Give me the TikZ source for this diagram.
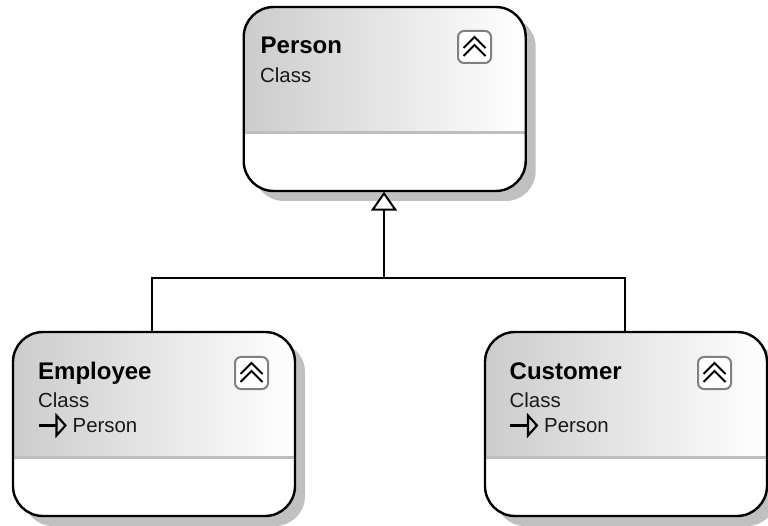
\documentclass[tikz,border=0pt]{standalone}
\usepackage{fontspec}
\setmainfont{Liberation Sans}
\usetikzlibrary{arrows.meta,shadows,positioning,calc}
\definecolor{hdrgray}{RGB}{204,204,204}
\definecolor{shadowgray}{RGB}{192,192,192}
\definecolor{divgray}{RGB}{190,190,190}
\definecolor{btngray}{RGB}{128,128,128}
\tikzset{
  classbox/.style={draw=black,line width=2.4pt,fill=white,rounded corners=30pt,
    minimum width=282pt,minimum height=184pt,inner sep=0pt,
    general shadow={shadow xshift=10pt,shadow yshift=-10pt,fill=shadowgray},
    path picture={
      \shade[sharp corners,left color=hdrgray,right color=white]
        (path picture bounding box.north west) rectangle
        ($(path picture bounding box.north east)+(0,-#1)$);
      \fill[sharp corners,divgray] ($(path picture bounding box.north west)+(0,-#1+1pt)$) rectangle
        ($(path picture bounding box.north east)+(0,-#1-2pt)$);
    }},
  classbox/.default=125pt,
  titletext/.style={font=\fontsize{24}{26}\selectfont\bfseries,anchor=base west,inner sep=0pt},
  subtext/.style={font=\fontsize{20.4}{22}\selectfont,anchor=base west,inner sep=0pt,text=black!90},
  btn/.style={draw=btngray,line width=2pt,fill=white,rounded corners=6pt,minimum width=33pt,minimum height=32pt,inner sep=0pt},
  chev/.style={line width=2.1pt,black},
  inherit/.style={line width=2pt,black},
  bigtip/.style={-{Triangle[open,length=19pt,width=26pt,fill=white,line width=2pt]}},
  smalltip/.style={line width=2.1pt}
}
\newcommand{\chevrons}[1]{%
  \draw[chev] ($(#1)+(-11pt,-1pt)$) -- ($(#1)+(0,10pt)$) -- ($(#1)+(11pt,-1pt)$);
  \draw[chev] ($(#1)+(-11pt,-9pt)$) -- ($(#1)+(0,2pt)$) -- ($(#1)+(11pt,-9pt)$);
}
\newcommand{\subarrow}[1]{%
  \draw[smalltip] ($(#1)+(0,0)$) -- ($(#1)+(18pt,0)$);
  \draw[smalltip,line join=miter] ($(#1)+(18pt,10pt)$) -- ($(#1)+(27pt,0)$) -- ($(#1)+(18pt,-10pt)$) -- cycle;
}
\begin{document}
\begin{tikzpicture}[x=1pt,y=-1pt]
\useasboundingbox (0,0) rectangle (768,526);
% boxes
\node[classbox=125pt] (person) at (384.7,99) {};
\node[classbox=125pt] (employee) at (154,424) {};
\node[classbox=125pt] (customer) at (626,424) {};
% connectors
\coordinate (junction) at (384,278);
\draw[inherit] ([xshift=-1.8pt]employee.north) |- (junction);
\draw[inherit] ([xshift=-1pt]customer.north) |- (junction);
\draw[inherit,bigtip] (junction) -- ([xshift=-0.7pt,yshift=0.5pt]person.south);
% Person
\node[titletext] (ptitle) at (260.5,54) {Person};
\node[subtext] (pclass) at (260,83) {Class};
\node[btn] (pbtn) at (474.5,47) {};
\coordinate (pc) at (474.5,47);
\chevrons{pc}
% Employee
\node[titletext] (etitle) at (38,379) {Employee};
\node[subtext] (eclass) at (38,407) {Class};
\coordinate (ea) at (38.5,425.5);
\subarrow{ea}
\node[subtext] (eperson) at (72.5,432) {Person};
\node[btn] (ebtn) at (251.5,373) {};
\coordinate (ec) at (251.5,373);
\chevrons{ec}
% Customer
\node[titletext] (ctitle) at (509.5,379) {Customer};
\node[subtext] (cclass) at (509.5,407) {Class};
\coordinate (ca) at (510,425.5);
\subarrow{ca}
\node[subtext] (cperson) at (544,432) {Person};
\node[btn] (cbtn) at (714.5,373) {};
\coordinate (cc) at (714.5,373);
\chevrons{cc}
\end{tikzpicture}
\end{document}
